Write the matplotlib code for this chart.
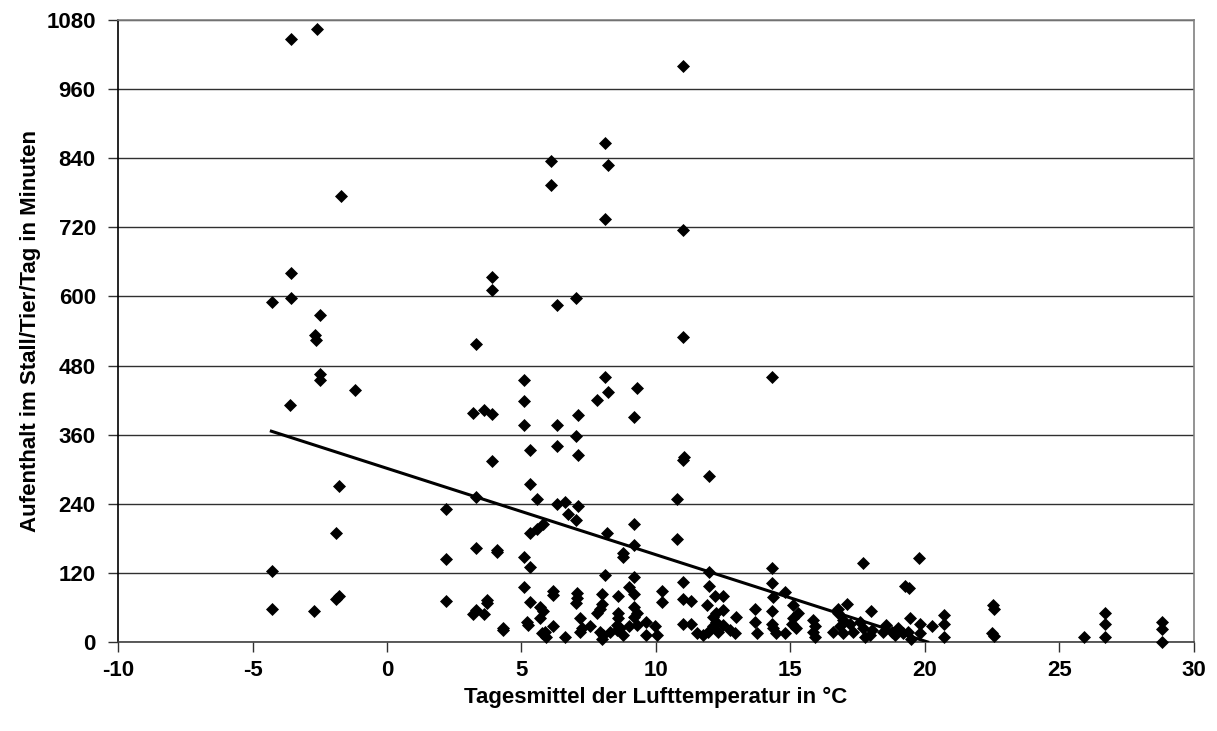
import numpy as np
import matplotlib.pyplot as plt
from matplotlib import font_manager

# daily mean air temperature (°C) and minutes spent in the barn per animal and day
temp = [
    -3.58, -2.59, -1.70, -3.58, 3.91, 3.91, -4.29, -3.58, -2.49,
    -2.68, -2.65, 3.31, -2.49, -2.49, -1.19, -3.59, 5.10, 5.10, 3.21, 3.60, 3.91,
    5.10, 5.30, 3.91, 5.30, 5.56, -1.78, 3.31, 2.19, -1.88, 3.31, 4.10, 4.10,
    5.10, 5.30, 2.19, -4.29, 5.10, 5.30, 2.19, -4.29, -2.70, -1.90, -1.78, 3.31,
    3.20, 3.71, 3.71, 3.60, 4.31, 4.31, 5.19, 5.25, 5.30, 5.56,
    11.0, 8.10, 6.10, 8.20, 6.10, 8.10, 11.0, 7.03, 6.31,
    11.0, 8.10, 9.28, 8.20, 7.79, 7.09, 9.19, 6.31, 7.03, 6.31, 7.09, 11.05, 11.0,
    11.98, 10.79, 6.31, 6.62, 7.09, 6.74, 7.03, 9.19, 5.79, 8.19, 10.79, 9.19,
    8.79, 8.79, 14.3, 14.3, 17.7, 11.98, 8.10, 9.19, 11.0, 11.98, 14.3, 9.01,
    14.8, 6.18, 6.18, 7.05, 7.05, 8.01, 8.6, 9.19, 10.21, 10.21, 10.99, 11.3,
    12.19, 12.48, 14.36, 5.69, 5.79, 5.69, 7.03, 8.01, 7.92, 7.79, 8.6, 8.6,
    9.19, 9.28, 9.19, 11.9, 12.48, 12.25, 12.12, 12.99, 13.7, 14.3, 15.1, 15.29,
    15.1, 17.09, 16.78, 17.99, 19.26, 19.4, 19.79,
    5.87, 5.93, 5.75, 6.18, 6.62, 7.17, 7.24, 7.17, 7.55, 7.92, 8.04, 7.98,
    8.29, 8.54, 8.66, 8.79, 8.54, 9.0, 9.28, 9.62, 9.62, 9.96, 10.02, 10.99,
    11.3, 11.51, 11.76, 11.94, 12.13, 12.25, 12.31, 12.49, 12.74, 12.94, 13.70,
    13.74, 14.3, 14.36, 14.48, 14.8, 15.04, 15.22, 15.85, 15.91, 15.85, 15.91,
    16.78, 16.97, 16.84, 17.21, 16.59, 16.97, 17.34, 17.58, 17.70, 17.96, 17.77,
    18.02, 18.57, 18.76, 19.0,
    18.45, 18.88, 19.44, 19.38, 19.5, 19.19, 19.81, 19.81, 20.28, 20.72, 20.72,
    20.72, 22.54, 22.57, 22.48, 22.57, 25.92, 26.69, 26.69, 26.69, 28.8, 28.8, 28.8,
]
minutes = [
    1047, 1064, 775, 641, 634, 611, 590, 598, 568,
    533, 525, 517, 465, 455, 438, 411, 455, 418, 398, 402, 396,
    376, 333, 315, 274, 249, 271, 252, 231, 189, 163, 160, 156,
    147, 130, 144, 124, 96, 69, 71, 58, 53, 75, 79, 56,
    49, 73, 67, 49, 24, 20, 35, 30, 190, 197,
    1001, 867, 835, 828, 794, 735, 716, 598, 586,
    530, 460, 441, 434, 421, 394, 390, 377, 357, 340, 325, 322, 316,
    289, 248, 240, 243, 236, 222, 212, 204, 205, 190, 179, 168,
    154, 148, 460, 128, 137, 122, 117, 112, 104, 98, 102, 95,
    86, 89, 82, 85, 76, 83, 79, 83, 89, 70, 74, 72,
    79, 80, 78, 60, 54, 41, 67, 66, 58, 51, 51, 41,
    60, 51, 44, 64, 56, 50, 44, 44, 58, 53, 64, 50,
    41, 66, 58, 53, 97, 93, 146,
    18, 9, 15, 28, 9, 41, 24, 18, 27, 18, 12, 6,
    18, 21, 24, 12, 30, 27, 30, 35, 12, 27, 12, 32,
    32, 15, 12, 18, 27, 35, 18, 30, 21, 15, 35,
    15, 32, 24, 15, 15, 32, 24, 38, 27, 18, 9,
    50, 38, 27, 32, 18, 15, 18, 35, 24, 12, 9,
    21, 30, 18, 24,
    18, 12, 41, 18, 6, 15, 32, 15, 28, 47, 31,
    8, 64, 57, 15, 10, 9, 50, 32, 8, 35, 22, 0,
]

# linear trend line end points
trend_x = [-4.3, 20.1]
trend_y = [366, 0]

x_ticks = list(range(-10, 31, 5))
y_ticks = list(range(0, 1081, 120))

plt.rcParams['font.family'] = ['Liberation Sans', 'DejaVu Sans']
plt.rcParams['axes.unicode_minus'] = False

# a narrow bold face for the axis titles, if one is installed
names = {f.name for f in font_manager.fontManager.ttflist}
narrow = [n for n in ['Liberation Sans Narrow', 'DejaVu Sans Condensed'] if n in names]
label_font = narrow[:1] + ['Liberation Sans', 'DejaVu Sans']

fig = plt.figure(figsize=(12.17, 7.31), dpi=100)
ax = fig.add_axes([0.097, 0.1218, 0.884, 0.8508])

ax.set_xlim(-10, 30)
ax.set_ylim(0, 1080)
ax.set_xticks(x_ticks)
ax.set_yticks(y_ticks)
ax.set_axisbelow(True)
ax.yaxis.grid(True, color='#303030', linewidth=1.0)

for tl in ax.get_xticklabels() + ax.get_yticklabels():
    tl.set_fontweight('bold')
    tl.set_fontsize(16)
ax.tick_params(axis='both', direction='out', length=7, width=1, color='#303030')
ax.tick_params(axis='y', pad=9)
ax.tick_params(axis='x', pad=6)

ax.spines['left'].set_color('black')
ax.spines['bottom'].set_color('#404040')
ax.spines['top'].set_color('#808080')
ax.spines['right'].set_color('#808080')
for s in ax.spines.values():
    s.set_linewidth(1.2)

ax.scatter(temp, minutes, marker='D', s=44, c='black', linewidths=0, zorder=3,
           clip_on=False)
ax.plot(trend_x, trend_y, color='black', linewidth=2.2, zorder=4)

ax.set_xlabel('Tagesmittel der Lufttemperatur in °C', fontsize=16, fontweight='bold',
              family=label_font, labelpad=4)
ax.set_ylabel('Aufenthalt im Stall/Tier/Tag in Minuten', fontsize=16, fontweight='bold',
              family=label_font, labelpad=4)

fig.savefig('out.png', dpi=100)
